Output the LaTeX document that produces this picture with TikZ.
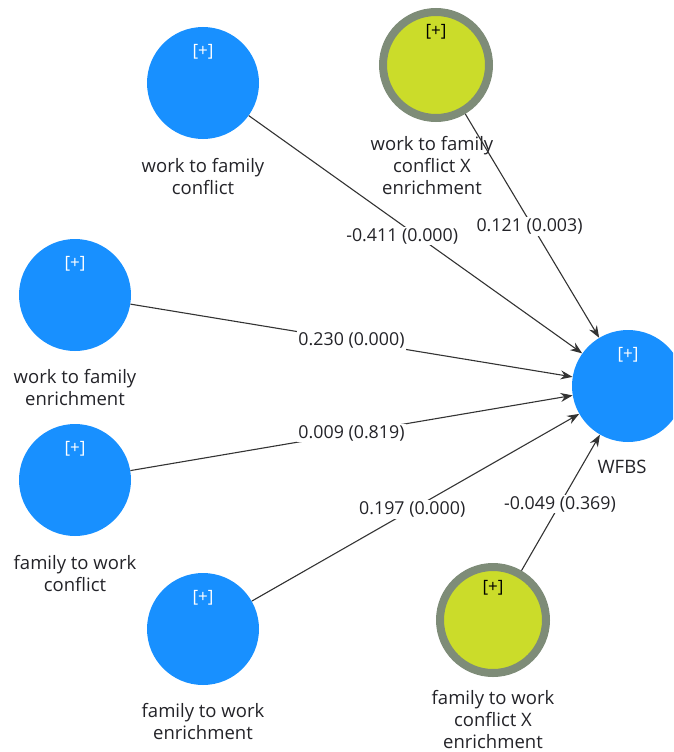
\documentclass[tikz,border=0pt]{standalone}
\usepackage{fontspec}
\setmainfont{Open Sans}
\usetikzlibrary{positioning,arrows.meta}
\definecolor{lvblue}{RGB}{24,144,255}
\definecolor{lvgreen}{RGB}{203,220,42}
\definecolor{lvring}{RGB}{126,140,120}
\definecolor{lvtext}{RGB}{35,35,40}
\tikzset{
  latent/.style={circle,fill=lvblue,minimum size=112pt,inner sep=0pt},
  moder/.style={circle,fill=lvgreen,draw=lvring,line width=8pt,minimum size=106pt,inner sep=0pt},
  plusw/.style={font=\fontsize{17}{18}\selectfont,inner sep=0pt,text=white,anchor=center,yshift=-25pt},
  plusb/.style={font=\fontsize{17}{18}\selectfont,inner sep=0pt,text=black,anchor=center,yshift=-24pt},
  cname/.style={align=center,font=\fontsize{18.5}{22}\selectfont,inner sep=0pt,text=lvtext},
  coef/.style={fill=white,inner sep=1.5pt,font=\fontsize{17.8}{19}\selectfont,text=lvtext},
  arr/.style={-{Stealth[length=12pt,width=9pt]},line width=1.1pt,draw=black!80},
}
\begin{document}
\begin{tikzpicture}[x=1pt,y=-1pt]
  \useasboundingbox (0,0) rectangle (673,752);
  \clip (0,0) rectangle (673,752);
  % constructs
  \node[latent,label={[plusw,name=wfcp]north:{[+]}}] (wfc) at (203,83) {};
  \node[moder,label={[plusb,name=wfcxp]north:{[+]}}] (wfcx) at (436,65) {};
  \node[latent,label={[plusw,name=wfep]north:{[+]}}] (wfe) at (75,295) {};
  \node[latent,label={[plusw,name=fwcp]north:{[+]}}] (fwc) at (75,480) {};
  \node[latent,label={[plusw,name=fwep]north:{[+]}}] (fwe) at (203,629) {};
  \node[moder,label={[plusb,name=fwcxp,yshift=-1pt]north:{[+]}}] (fwcx) at (493,620) {};
  \node[latent,label={[plusw,name=wfbsp]north:{[+]}}] (wfbs) at (628,386) {};
  % names
  \node[cname,below=19pt of wfc] (wfct) {work to family\\conflict};
  \node[cname,below=14pt of wfcx,xshift=-4pt] (wfcxt) {work to family\\conflict X\\enrichment};
  \node[cname,below=18pt of wfe] (wfet) {work to family\\enrichment};
  \node[cname,below=19pt of fwc] (fwct) {family to work\\conflict};
  \node[cname,below=18pt of fwe] (fwet) {family to work\\enrichment};
  \node[cname,below=13pt of fwcx] (fwcxt) {family to work\\conflict X\\enrichment};
  \node[cname,below=18pt of wfbs,xshift=-6pt] (wfbst) {WFBS};
  % paths
  \draw[arr] (wfc) -- (wfbs) node[coef,pos=.46,yshift=-11pt] {-0.411 (0.000)};
  \draw[arr] (wfcx) -- (wfbs) node[coef,pos=.48,yshift=-5pt] {0.121 (0.003)};
  \draw[arr] (wfe) -- (wfbs) node[coef,pos=.5] {0.230 (0.000)};
  \draw[arr] (fwc) -- (wfbs) node[coef,pos=.5] {0.009 (0.819)};
  \draw[arr] (fwe) -- (wfbs) node[coef,pos=.49] {0.197 (0.000)};
  \draw[arr] (fwcx) -- (wfbs) node[coef,pos=.49] {-0.049 (0.369)};
\end{tikzpicture}
\end{document}
